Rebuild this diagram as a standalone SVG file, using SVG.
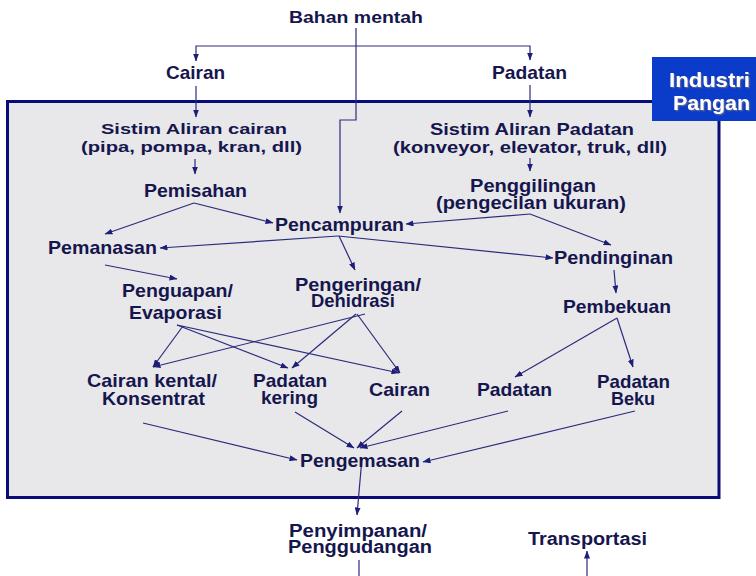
<svg xmlns="http://www.w3.org/2000/svg" width="756" height="576" viewBox="0 0 756 576">
<style>
  text { font-family: "Liberation Sans", Arial, sans-serif; font-weight: bold; fill: #16164e; lengthAdjust: spacingAndGlyphs; }
  .s15 { font-size: 15.5px; }
  .s16 { font-size: 16.5px; }
  .s17 { font-size: 17.5px; }
  .s18 { font-size: 18.5px; }
  .s19 { font-size: 19px; }
  .conn { fill: none; stroke: #2b2b7c; stroke-width: 1.2; marker-end: url(#arr); }
  .plain { fill: none; stroke: #2b2b7c; stroke-width: 1.2; }
  .tag { font-size: 21px; fill: #ffffff; filter: url(#sh); }
</style>
<defs>
  <marker id="arr" markerUnits="userSpaceOnUse" markerWidth="8" markerHeight="6" refX="7.5" refY="3" orient="auto">
    <path d="M0,0 L8,3 L0,6 z" fill="#1e1e78"/>
  </marker>
  <filter id="sh" x="-10%" y="-10%" width="130%" height="140%">
    <feDropShadow dx="1.2" dy="1.2" stdDeviation="0.4" flood-color="#6a6a8a" flood-opacity="0.9"/>
  </filter>
</defs>
<rect width="756" height="576" fill="#ffffff"/>

<g id="frame">
  <rect x="7.5" y="101.5" width="711.5" height="396" fill="#e8e8ea" stroke="#0c0c78" stroke-width="3"/>
</g>
<g id="industri-pangan">
  <rect x="652" y="57" width="104" height="64" fill="#0b3cc9"/>
  <text class="tag" x="669" y="87" textLength="81" lengthAdjust="spacingAndGlyphs">Industri</text>
  <text class="tag" x="673" y="110" textLength="77" lengthAdjust="spacingAndGlyphs">Pangan</text>
</g>

<g id="connectors">
  <path class="conn" d="M356,28 V120 H340 V213"/>
  <path class="conn" d="M356,46 H196 V61"/>
  <path class="conn" d="M356,46 H530 V60"/>
  <path class="conn" d="M196,86 V117"/>
  <path class="conn" d="M530,85 V117"/>
  <path class="conn" d="M195,159 V174"/>
  <path class="conn" d="M530,158 V171"/>
  <path class="conn" d="M194,203 L105,234"/>
  <path class="conn" d="M194,203 L273,223"/>
  <path class="conn" d="M530,214 L406,224"/>
  <path class="conn" d="M530,214 L611,245"/>
  <path class="conn" d="M338,236 L160,248"/>
  <path class="conn" d="M338,236 L553,258"/>
  <path class="conn" d="M339,236 L355,270"/>
  <path class="conn" d="M105,265 L177,279"/>
  <path class="conn" d="M614,270 L616,293"/>
  <path class="conn" d="M183,326 L153,367"/>
  <path class="conn" d="M177,325 L288,368"/>
  <path class="conn" d="M177,325 L399,373"/>
  <path class="conn" d="M365,314 L153,367"/>
  <path class="conn" d="M356,314 L292,368"/>
  <path class="conn" d="M357,314 L400,373"/>
  <path class="conn" d="M617,318 L515,377"/>
  <path class="conn" d="M617,318 L633,367"/>
  <path class="conn" d="M143,423 L297,460"/>
  <path class="conn" d="M295,412 L354,448"/>
  <path class="conn" d="M402,411 L357,448"/>
  <path class="conn" d="M508,411 L360,448"/>
  <path class="conn" d="M635,411 L423,462"/>
  <path class="conn" d="M362,458 L357,515"/>
  <path class="plain" d="M359,560 V576"/>
  <path class="conn" d="M587,576 V551"/>
</g>

<g id="bahan-mentah"><text class="s16" x="289" y="23" textLength="134" lengthAdjust="spacingAndGlyphs">Bahan mentah</text></g>
<g id="cairan-top"><text class="s18" x="166" y="79" textLength="59" lengthAdjust="spacingAndGlyphs">Cairan</text></g>
<g id="padatan-top"><text class="s19" x="492" y="79" textLength="75" lengthAdjust="spacingAndGlyphs">Padatan</text></g>
<g id="sistim-cairan">
  <text class="s15" x="101" y="134" textLength="186" lengthAdjust="spacingAndGlyphs">Sistim Aliran cairan</text>
  <text class="s15" x="81" y="152" textLength="221" lengthAdjust="spacingAndGlyphs">(pipa, pompa, kran, dll)</text>
</g>
<g id="sistim-padatan">
  <text class="s16" x="430" y="135" textLength="204" lengthAdjust="spacingAndGlyphs">Sistim Aliran Padatan</text>
  <text class="s16" x="393" y="153" textLength="274" lengthAdjust="spacingAndGlyphs">(konveyor, elevator, truk, dll)</text>
</g>
<g id="pemisahan"><text class="s18" x="144" y="197" textLength="103" lengthAdjust="spacingAndGlyphs">Pemisahan</text></g>
<g id="penggilingan">
  <text class="s17" x="470" y="192" textLength="126" lengthAdjust="spacingAndGlyphs">Penggilingan</text>
  <text class="s17" x="436" y="209" textLength="190" lengthAdjust="spacingAndGlyphs">(pengecilan ukuran)</text>
</g>
<g id="pencampuran"><text class="s19" x="275" y="231" textLength="129" lengthAdjust="spacingAndGlyphs">Pencampuran</text></g>
<g id="pemanasan"><text class="s18" x="48" y="254" textLength="109" lengthAdjust="spacingAndGlyphs">Pemanasan</text></g>
<g id="pendinginan"><text class="s18" x="554" y="264" textLength="119" lengthAdjust="spacingAndGlyphs">Pendinginan</text></g>
<g id="penguapan">
  <text class="s18" x="122" y="297" textLength="111" lengthAdjust="spacingAndGlyphs">Penguapan/</text>
  <text class="s18" x="129" y="319" textLength="93" lengthAdjust="spacingAndGlyphs">Evaporasi</text>
</g>
<g id="pengeringan">
  <text class="s19" x="295" y="291" textLength="126" lengthAdjust="spacingAndGlyphs">Pengeringan/</text>
  <text class="s19" x="311" y="307" textLength="84" lengthAdjust="spacingAndGlyphs">Dehidrasi</text>
</g>
<g id="pembekuan"><text class="s18" x="563" y="313" textLength="108" lengthAdjust="spacingAndGlyphs">Pembekuan</text></g>
<g id="cairan-kental">
  <text class="s18" x="87" y="387" textLength="130" lengthAdjust="spacingAndGlyphs">Cairan kental/</text>
  <text class="s18" x="102" y="405" textLength="103" lengthAdjust="spacingAndGlyphs">Konsentrat</text>
</g>
<g id="padatan-kering">
  <text class="s18" x="253" y="387" textLength="74" lengthAdjust="spacingAndGlyphs">Padatan</text>
  <text class="s18" x="261" y="404" textLength="57" lengthAdjust="spacingAndGlyphs">kering</text>
</g>
<g id="cairan"><text class="s18" x="369" y="396" textLength="61" lengthAdjust="spacingAndGlyphs">Cairan</text></g>
<g id="padatan"><text class="s18" x="477" y="396" textLength="75" lengthAdjust="spacingAndGlyphs">Padatan</text></g>
<g id="padatan-beku">
  <text class="s18" x="597" y="388" textLength="73" lengthAdjust="spacingAndGlyphs">Padatan</text>
  <text class="s18" x="611" y="405" textLength="44" lengthAdjust="spacingAndGlyphs">Beku</text>
</g>
<g id="pengemasan"><text class="s19" x="300" y="467" textLength="120" lengthAdjust="spacingAndGlyphs">Pengemasan</text></g>
<g id="penyimpanan">
  <text class="s17" x="289" y="537" textLength="138" lengthAdjust="spacingAndGlyphs">Penyimpanan/</text>
  <text class="s17" x="288" y="553" textLength="144" lengthAdjust="spacingAndGlyphs">Penggudangan</text>
</g>
<g id="transportasi"><text class="s17" x="528" y="545" textLength="119" lengthAdjust="spacingAndGlyphs">Transportasi</text></g>
</svg>
